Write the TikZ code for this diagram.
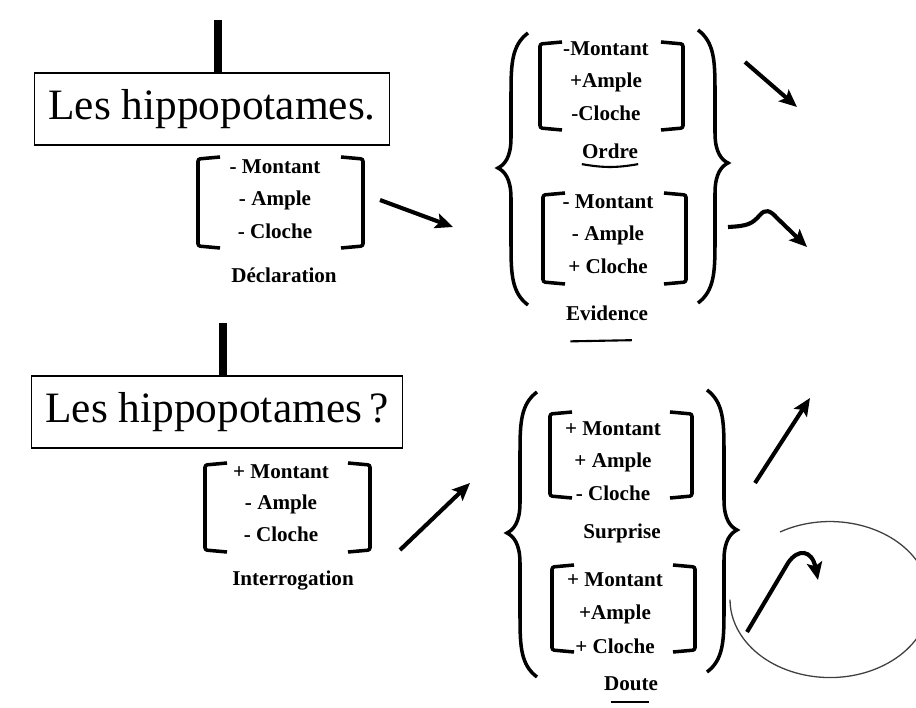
\documentclass[tikz,border=0pt]{standalone}
\usepackage{fontspec}
\setmainfont{Liberation Serif}
\usepackage{tikz}
\usetikzlibrary{arrows.meta}

\newcommand\featbrak[4]{%
\draw[brak] (#1+22,#3) -- (#1,#3+2) -- (#1,#4-2) -- (#1+22,#4);
\draw[brak] (#2-22,#3) -- (#2,#3+2) -- (#2,#4-2) -- (#2-22,#4);}
\newcommand\curlyL[4]{\draw[curly] (#1+30,#2) .. controls (#1+14,#2+12) and (#1+13,#2+30) .. (#1+13,#2+60) -- (#1+13,#3-30) .. controls (#1+13,#3-10) and (#1+6,#3-3) .. (#1,#3) .. controls (#1+6,#3+3) and (#1+13,#3+10) .. (#1+13,#3+30) -- (#1+13,#4-60) .. controls (#1+13,#4-30) and (#1+14,#4-12) .. (#1+30,#4);}
\newcommand\curlyR[4]{\draw[curly] (#1-30,#2) .. controls (#1-14,#2+12) and (#1-13,#2+30) .. (#1-13,#2+60) -- (#1-13,#3-30) .. controls (#1-13,#3-10) and (#1-6,#3-3) .. (#1,#3) .. controls (#1-6,#3+3) and (#1-13,#3+10) .. (#1-13,#3+30) -- (#1-13,#4-60) .. controls (#1-13,#4-30) and (#1-14,#4-12) .. (#1-30,#4);}

\begin{document}
\begin{tikzpicture}[x=0.3mm,y=-0.3mm,
  headbox/.style={draw,line width=1.2pt,inner xsep=12pt,minimum height=21.6mm,font=\fontsize{37}{40}\selectfont},
  feat/.style={font=\bfseries\fontsize{18}{20}\selectfont,text height=1.6ex,text depth=.4ex,inner sep=0pt},
  brak/.style={line width=3pt,rounded corners=2pt},
  curly/.style={line width=3pt},
  stem/.style={line width=6.5pt},
  pointer/.style={line width=3.5pt,-{Stealth[length=15pt,width=13pt,inset=3pt]}},
  uline/.style={line width=1.8pt},
  ring/.style={line width=1.1pt,black!75}]
\useasboundingbox (0,0) rectangle (916,708);
\node[headbox] (decl) at (212,109) {Les hippopotames.};
\node[headbox] (interr) at (217,412) {Les hippopotames\,?};
\coordinate (s1) at (218,20);
\draw[stem] (s1) -- (s1 |- decl.north);
\coordinate (s2) at (223,323);
\draw[stem] (s2) -- (s2 |- interr.north);

\foreach\t[count=\i from 0] in {- Montant,- Ample,- Cloche}{\node[feat] (d\i) at (275,170+32.5*\i) {\t};}
\foreach\t[count=\i from 0] in {-Montant,+Ample,-Cloche}{\node[feat] (o\i) at (606,52+32.5*\i) {\t};}
\foreach\t[count=\i from 0] in {- Montant,- Ample,+ Cloche}{\node[feat] (e\i) at (608,205+32.5*\i) {\t};}
\foreach\t[count=\i from 0] in {+ Montant,- Ample,- Cloche}{\node[feat] (i\i) at (281,475+31.5*\i) {\t};}
\foreach\t[count=\i from 0] in {+ Montant,+ Ample,- Cloche}{\node[feat] (s\i) at (613,432+32.5*\i) {\t};}
\foreach\t[count=\i from 0] in {+ Montant,+Ample,+ Cloche}{\node[feat] (t\i) at (615,583+33.5*\i) {\t};}
\node[feat] (declname) at (284,279) {Déclaration};
\node[feat] (ordre) at (610,155) {Ordre};
\node[feat] (evid) at (607,317) {Evidence};
\node[feat] (interrname) at (293,582) {Interrogation};
\node[feat] (surpr) at (622,535) {Surprise};
\node[feat] (doute) at (631,687) {Doute};
\featbrak{198}{363}{157}{248}
\featbrak{540}{683}{42}{130}
\featbrak{543}{686}{193}{284}
\featbrak{205}{370}{463}{552}
\featbrak{550}{692}{412}{498}
\featbrak{552}{695}{565}{652}
\curlyL{498}{33}{168}{305}
\curlyR{728}{30}{163}{303}
\curlyL{507}{392}{533}{677}
\curlyR{737}{390}{530}{672}

\draw[uline] ([yshift=-3pt]ordre.south west) to[bend right=10] ([yshift=-3pt]ordre.south east);
\draw[uline] ([xshift=4pt,yshift=-16pt]evid.south west) -- ([xshift=-14pt,yshift=-15pt]evid.south east);
\draw[uline] ([xshift=6pt,yshift=-8pt]doute.south west) -- ([xshift=-8pt,yshift=-8pt]doute.south east);

\foreach\n/\xa/\ya/\xb/\yb in {d/380/200/453/227,o/745/62/797/107,i/400/550/470/483,s/755/483/810/398}{
\coordinate (\n-a) at (\xa,\ya); \coordinate (\n-b) at (\xb,\yb);
\draw[pointer] (\n-a) -- (\n-b);}
\coordinate (e-a) at (728,227); \coordinate (e-b) at (807,247);
\draw[pointer] (e-a) .. controls (748,226) and (752,224) .. (760,215) .. controls (765,209) and (770,210) .. (777,218) -- (e-b);
\coordinate (t-a) at (747,632); \coordinate (t-b) at (818,580);
\draw[pointer] (t-a) -- (788,563) .. controls (798,548) and (812,550) .. (t-b);
\draw[ring] (780,532) arc[start angle=240,end angle=540,x radius=100,y radius=78];
\end{tikzpicture}
\end{document}
